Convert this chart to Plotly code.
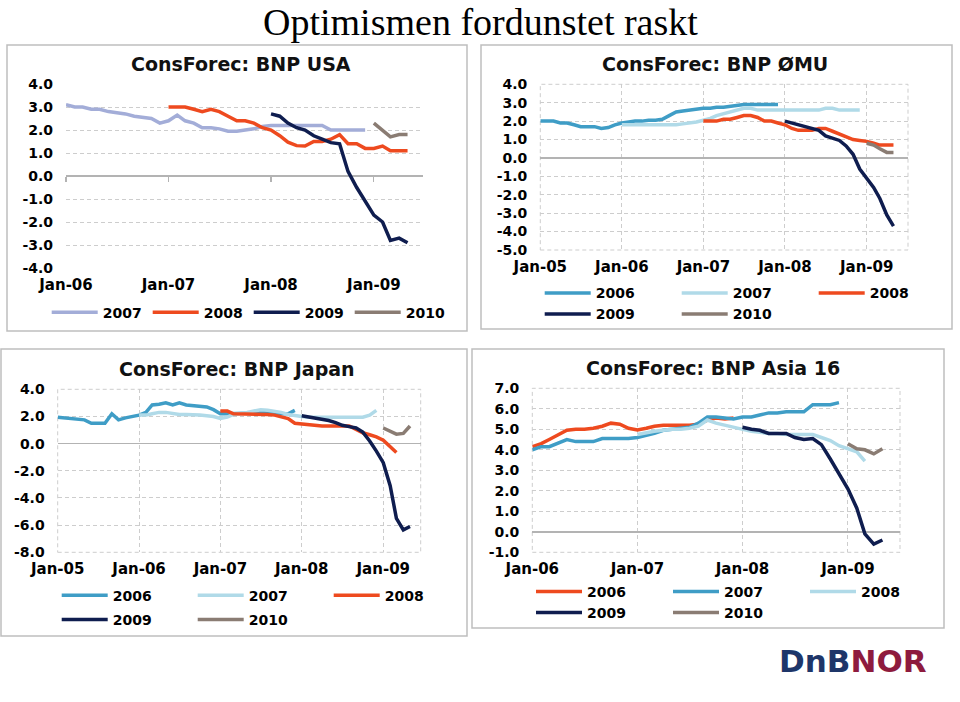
import pandas as pd
import plotly.graph_objects as go

# ---------------- data (ConsForec GDP forecasts, % y/y, monthly surveys) ----------------
# USA
usa_2007_start = "2006-01"
usa_2007 = [3.1, 3.0, 3.0, 2.9, 2.9, 2.8, 2.75, 2.7, 2.6, 2.55, 2.5, 2.3, 2.4, 2.65, 2.4, 2.3,
            2.1, 2.1, 2.05, 1.95, 1.95, 2.0, 2.05, 2.15, 2.2, 2.2, 2.2, 2.2, 2.2, 2.2, 2.2,
            2.0, 2.0, 2.0, 2.0, 2.0]
usa_2008_start = "2007-01"
usa_2008 = [3.0, 3.0, 3.0, 2.9, 2.8, 2.9, 2.8, 2.6, 2.4, 2.4, 2.3, 2.1, 2.0, 1.75, 1.47, 1.32,
            1.3, 1.5, 1.5, 1.6, 1.8, 1.4, 1.4, 1.2, 1.2, 1.3, 1.1, 1.1, 1.1]
usa_2009_start = "2008-01"
usa_2009 = [2.7, 2.6, 2.3, 2.1, 2.0, 1.75, 1.6, 1.45, 1.4, 0.2, -0.5, -1.1, -1.7, -2.0, -2.8,
            -2.7, -2.9]
usa_2010_start = "2009-01"
usa_2010 = [2.3, 2.0, 1.7, 1.8, 1.8]

# Eurozone (ØMU)
emu_2006_start = "2005-01"
emu_2006 = [2.0, 2.0, 2.0, 1.9, 1.9, 1.8, 1.7, 1.7, 1.7, 1.6, 1.65, 1.8, 1.9, 1.95, 2.0, 2.0,
            2.05, 2.05, 2.1, 2.3, 2.5, 2.55, 2.6, 2.65, 2.7, 2.7, 2.75, 2.75, 2.8, 2.85, 2.9,
            2.9, 2.9, 2.9, 2.9, 2.9]
emu_2007_start = "2006-01"
emu_2007 = [1.8, 1.8, 1.8, 1.8, 1.8, 1.8, 1.8, 1.8, 1.8, 1.85, 1.9, 1.95, 2.05, 2.15, 2.3, 2.4,
            2.5, 2.6, 2.7, 2.7, 2.6, 2.6, 2.6, 2.6, 2.6, 2.6, 2.6, 2.6, 2.6, 2.6, 2.7, 2.7,
            2.6, 2.6, 2.6, 2.6]
emu_2008_start = "2007-01"
emu_2008 = [2.0, 2.0, 2.0, 2.1, 2.1, 2.2, 2.3, 2.3, 2.2, 2.0, 2.0, 1.9, 1.8, 1.6, 1.5, 1.5,
            1.5, 1.6, 1.6, 1.45, 1.3, 1.15, 1.0, 0.95, 0.9, 0.8, 0.7, 0.7, 0.7]
emu_2009_start = "2008-01"
emu_2009 = [2.0, 1.9, 1.8, 1.7, 1.6, 1.5, 1.2, 1.05, 0.95, 0.65, 0.2, -0.6, -1.1, -1.6, -2.2,
            -3.1, -3.7]
emu_2010_start = "2009-01"
emu_2010 = [0.8, 0.7, 0.5, 0.3, 0.3]

# Japan
jp_2006_start = "2005-01"
jp_2006 = [1.95, 1.9, 1.8, 1.75, 1.75, 1.5, 1.5, 1.5, 2.2, 1.75, 1.9, 2.0, 2.1, 2.3, 2.85, 2.9,
           3.0, 2.85, 3.0, 2.85, 2.8, 2.8, 2.7, 2.5, 2.2, 2.2, 2.2, 2.2, 2.2, 2.25, 2.3, 2.25,
           2.2, 2.2, 2.2, 2.45]
jp_2007_start = "2006-01"
jp_2007 = [2.1, 2.1, 2.2, 2.3, 2.3, 2.2, 2.15, 2.15, 2.15, 2.1, 2.05, 2.0, 1.85, 1.95, 2.15,
           2.2, 2.3, 2.4, 2.5, 2.45, 2.4, 2.3, 2.15, 2.05, 2.0, 1.95, 1.95, 1.95, 1.95, 1.95,
           1.95, 1.95, 1.95, 1.95, 2.1, 2.45]
jp_2008_start = "2007-01"
jp_2008 = [2.4, 2.4, 2.2, 2.2, 2.2, 2.2, 2.2, 2.15, 2.1, 2.0, 1.85, 1.5, 1.45, 1.4, 1.3, 1.3,
           1.3, 1.3, 1.35, 1.3, 1.05, 0.8, 0.65, 0.5, 0.25, -0.2, -0.65]
jp_2009_start = "2008-01"
jp_2009 = [2.05, 1.97, 1.9, 1.8, 1.7, 1.55, 1.35, 1.25, 1.15, 0.85, 0.2, -0.55, -1.4, -3.1,
           -5.5, -6.35, -6.1]
jp_2010_start = "2009-01"
jp_2010 = [1.15, 0.9, 0.7, 0.75, 1.3]

# Asia 16
asia_2006_start = "2006-01"
asia_2006 = [4.15, 4.3, 4.5, 4.75, 4.95, 5.0, 5.0, 5.05, 5.15, 5.3, 5.25, 5.05, 4.97, 5.05,
             5.15, 5.2, 5.2, 5.2, 5.2, 5.25, 5.45, 5.55, 5.5, 5.55]
asia_2007_start = "2006-01"
asia_2007 = [4.0, 4.15, 4.15, 4.35, 4.5, 4.4, 4.4, 4.4, 4.55, 4.55, 4.55, 4.55, 4.6, 4.7, 4.8,
             4.95, 5.0, 5.05, 5.1, 5.3, 5.6, 5.6, 5.55, 5.5, 5.6, 5.6, 5.7, 5.8, 5.8, 5.85,
             5.85, 5.85, 6.2, 6.2, 6.2, 6.3]
asia_2008_start = "2007-01"
asia_2008 = [4.75, 4.85, 4.9, 4.95, 5.0, 5.0, 5.05, 5.15, 5.45, 5.3, 5.2, 5.1, 5.0, 4.9, 4.85,
             4.8, 4.8, 4.75, 4.75, 4.75, 4.75, 4.6, 4.45, 4.2, 4.05, 3.9, 3.45]
asia_2009_start = "2008-01"
asia_2009 = [5.1, 5.0, 4.95, 4.8, 4.8, 4.8, 4.6, 4.5, 4.55, 4.25, 3.55, 2.85, 2.1, 1.15, -0.1,
             -0.6, -0.4]
asia_2010_start = "2009-01"
asia_2010 = [4.3, 4.05, 4.0, 3.8, 4.05]

# axis ticks
usa_yticks = [-4, -3, -2, -1, 0, 1, 2, 3, 4]
emu_yticks = [-5, -4, -3, -2, -1, 0, 1, 2, 3, 4]
jp_yticks = [-8, -6, -4, -2, 0, 2, 4]
asia_yticks = [-1, 0, 1, 2, 3, 4, 5, 6, 7]

main_title = "Optimismen fordunstet raskt"
panel_titles = ["ConsForec: BNP USA", "ConsForec: BNP ØMU",
                "ConsForec: BNP Japan", "ConsForec: BNP Asia 16"]

# ---------------- style ----------------
W, H = 960, 702
C_LAV = "#A3ADD8"
C_RED = "#EE4A1F"
C_NAVY = "#0F1D4F"
C_BROWN = "#8A7C73"
C_MID = "#3F9DC6"
C_LIGHT = "#B0DAE8"
FONT = "DejaVu Sans"
GRID = "#CDCDCD"
ZERO = "#B3B3B3"
DASH = "4px,3px"
LW = 3.5


def px_x(v):
    return v / W


def px_y(v):
    return 1 - v / H


def months(start, n):
    return pd.date_range(start=start, periods=n, freq="MS")


fig = go.Figure()

panels = [
    dict(ax="", series=[("2007", usa_2007_start, usa_2007, C_LAV, "legend"),
                        ("2008", usa_2008_start, usa_2008, C_RED, "legend"),
                        ("2009", usa_2009_start, usa_2009, C_NAVY, "legend"),
                        ("2010", usa_2010_start, usa_2010, C_BROWN, "legend")]),
    dict(ax="2", series=[("2006", emu_2006_start, emu_2006, C_MID, "legend2"),
                         ("2007", emu_2007_start, emu_2007, C_LIGHT, "legend2"),
                         ("2008", emu_2008_start, emu_2008, C_RED, "legend2"),
                         ("2009", emu_2009_start, emu_2009, C_NAVY, "legend3"),
                         ("2010", emu_2010_start, emu_2010, C_BROWN, "legend3")]),
    dict(ax="3", series=[("2006", jp_2006_start, jp_2006, C_MID, "legend4"),
                         ("2007", jp_2007_start, jp_2007, C_LIGHT, "legend4"),
                         ("2008", jp_2008_start, jp_2008, C_RED, "legend4"),
                         ("2009", jp_2009_start, jp_2009, C_NAVY, "legend5"),
                         ("2010", jp_2010_start, jp_2010, C_BROWN, "legend5")]),
    dict(ax="4", series=[("2006", asia_2006_start, asia_2006, C_RED, "legend6"),
                         ("2007", asia_2007_start, asia_2007, C_MID, "legend6"),
                         ("2008", asia_2008_start, asia_2008, C_LIGHT, "legend6"),
                         ("2009", asia_2009_start, asia_2009, C_NAVY, "legend7"),
                         ("2010", asia_2010_start, asia_2010, C_BROWN, "legend7")]),
]

# empty trace so the USA zero-line tick axis (x5) is created
fig.add_trace(go.Scatter(x=[], y=[], xaxis="x5", yaxis="y", showlegend=False,
                         hoverinfo="skip"))

for p in panels:
    for name, start, vals, color, leg in p["series"]:
        fig.add_trace(go.Scatter(
            x=months(start, len(vals)), y=vals, name=name, mode="lines",
            line=dict(color=color, width=LW), legend=leg,
            xaxis="x" + p["ax"], yaxis="y" + p["ax"], hoverinfo="skip"))

ytickfont = dict(family=FONT, size=14, color="black", weight="bold")
xtickfont = dict(family=FONT, size=15, color="black", weight="bold")

# plot areas (pixel geometry)
geo = [
    # x0, x1, ytop, ybottom, xrange, yticks, xgrid, tick0
    (66, 423, 84, 268, ["2006-01-01", "2009-06-25"], usa_yticks, False, "2006-01-01"),
    (540.3, 908, 84.3, 250, ["2005-01-01", "2009-07-05"], emu_yticks, True, "2005-01-01"),
    (57.7, 420.7, 389.3, 552.3, ["2005-01-01", "2009-06-18"], jp_yticks, True, "2005-01-01"),
    (532.3, 900, 388.3, 552.3, ["2006-01-01", "2009-07-01"], asia_yticks, True, "2006-01-01"),
]

layout = {}
shapes = []
for i, (x0, x1, yt, yb, xr, yticks, xgrid, t0) in enumerate(geo):
    ax = "" if i == 0 else str(i + 1)
    layout["xaxis" + ax] = dict(
        domain=[px_x(x0), px_x(x1)], range=xr, type="date", anchor="y" + ax,
        tick0=t0, dtick="M12", tickformat="%b-%y", ticks="", showline=False,
        showgrid=xgrid, gridcolor=GRID, griddash=DASH, gridwidth=1, automargin=False,
        tickfont=xtickfont, ticklabelstandoff=6, zeroline=False, fixedrange=True)
    layout["yaxis" + ax] = dict(
        domain=[px_y(yb), px_y(yt)], range=[yticks[0], yticks[-1]], anchor="x" + ax,
        tickvals=yticks, ticktext=[f"{v:.1f}" for v in yticks], ticks="",
        showgrid=True, gridcolor=GRID, griddash=DASH, gridwidth=1, automargin=False,
        zeroline=True, zerolinecolor=ZERO, zerolinewidth=1.5, showline=False,
        tickfont=ytickfont, ticklabelstandoff=12, fixedrange=True)
    if xgrid:
        shapes.append(dict(type="rect", xref=f"x{ax} domain", yref=f"y{ax} domain",
                           x0=0, x1=1, y0=0, y1=1, layer="below",
                           line=dict(color=GRID, width=1, dash=DASH)))

# USA: small year tick marks sitting on the zero line
usa_zero_pos = (0 - usa_yticks[0]) / (usa_yticks[-1] - usa_yticks[0])
ydom = layout["yaxis"]["domain"]
layout["xaxis5"] = dict(
    overlaying="x", anchor="free", position=ydom[0] + usa_zero_pos * (ydom[1] - ydom[0]),
    domain=layout["xaxis"]["domain"], range=geo[0][4], type="date", tick0="2006-01-01",
    dtick="M12", ticks="outside", ticklen=5, tickwidth=1.2, tickcolor=ZERO,
    showticklabels=False, showgrid=False, zeroline=False, showline=False,
    automargin=False, fixedrange=True)

# panel frames
for (bx0, bx1, by0, by1) in [(7, 467, 45, 331), (481, 952, 45, 329),
                             (1, 467, 349, 636), (472, 944, 349, 628)]:
    shapes.append(dict(type="rect", xref="paper", yref="paper",
                       x0=px_x(bx0), x1=px_x(bx1), y0=px_y(by1), y1=px_y(by0),
                       line=dict(color="#BEBEBE", width=1.5), layer="below"))

annotations = [dict(text=main_title, x=px_x(480), y=1, xref="paper", yref="paper",
                    showarrow=False, xanchor="center", yanchor="top", borderpad=0,
                    font=dict(family="Liberation Serif", size=38, color="black"))]
for t, (cx, cy) in zip(panel_titles, [(241, 64), (715, 64), (237, 369), (713, 368)]):
    annotations.append(dict(text=t, x=px_x(cx), y=px_y(cy), xref="paper", yref="paper",
                            showarrow=False, xanchor="center", yanchor="middle",
                            font=dict(family=FONT, size=19, color="#111111", weight="bold")))
annotations.append(dict(
    text="<span style='color:#1E3669'>DnB</span><span style='color:#8E1B3E'>NOR</span>",
    x=px_x(853), y=px_y(661), xref="paper", yref="paper", showarrow=False,
    xanchor="center", yanchor="middle", font=dict(family=FONT, size=31, weight="bold")))

legfont = dict(family=FONT, size=14, color="black", weight="bold")


def leg(line_start_px, y_px, spacing, iw=46):
    return dict(orientation="h", x=px_x(line_start_px - 5), y=px_y(y_px), xanchor="left",
                yanchor="middle", entrywidth=spacing - iw - 15, entrywidthmode="pixels",
                itemwidth=iw, font=legfont, bgcolor="rgba(0,0,0,0)", borderwidth=0,
                itemclick=False, itemdoubleclick=False, tracegroupgap=0)


layout["legend"] = leg(51.7, 312.7, 101)
layout["legend2"] = leg(544.7, 293.3, 137)
layout["legend3"] = leg(544.7, 314.3, 137)
layout["legend4"] = leg(61.7, 595.7, 136)
layout["legend5"] = leg(61.7, 620.0, 136)
layout["legend6"] = leg(536.0, 592.0, 137)
layout["legend7"] = leg(536.0, 613.0, 137)

fig.update_layout(template="none", width=W, height=H, margin=dict(l=0, r=0, t=0, b=0),
                  paper_bgcolor="white", plot_bgcolor="rgba(0,0,0,0)",
                  showlegend=True, shapes=shapes, annotations=annotations,
                  font=dict(family=FONT, color="black"), **layout)

fig.write_html("out.html", config={"displayModeBar": False, "staticPlot": True},
               post_script="document.body.style.margin='0';")
